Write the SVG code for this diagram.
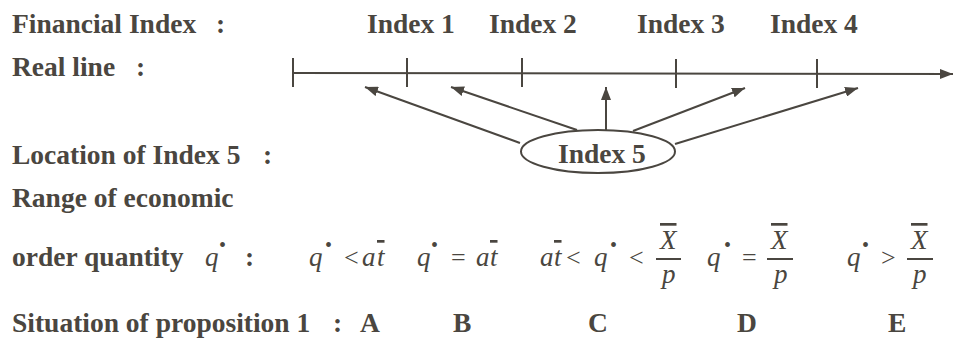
<svg xmlns="http://www.w3.org/2000/svg" width="953" height="340" viewBox="0 0 953 340">
<style>
.b{font-family:"Liberation Serif","Times New Roman",serif;font-weight:bold;font-size:27.5px;fill:#4a4640}
.m{font-family:"Liberation Serif","Times New Roman",serif;font-style:italic;font-size:27px;fill:#4a4640}
.r{font-family:"Liberation Serif","Times New Roman",serif;font-style:normal;font-size:26px;fill:#4a4640}
.d{font-size:20px;font-style:normal}
.o{text-decoration:overline}
.ln{stroke:#4a4640;stroke-width:2;fill:none}
</style>
<defs>
<marker id="ah" markerUnits="userSpaceOnUse" markerWidth="14" markerHeight="10" refX="13" refY="5" orient="auto">
<path d="M0,0 L13,5 L0,10 Z" fill="#4a4640"/>
</marker>
</defs>
<rect width="953" height="340" fill="#ffffff"/>
<g id="labels">
<text class="b" x="12" y="33">Financial Index<tspan x="216">:</tspan></text>
<text class="b" x="12" y="76">Real line<tspan x="136">:</tspan></text>
<text class="b" x="12" y="164">Location of Index 5<tspan x="263">:</tspan></text>
<text class="b" x="12" y="207">Range of economic</text>
<text class="b" x="12" y="266">order quantity</text>
<text class="b" x="12" y="332">Situation of proposition 1<tspan x="333">:</tspan></text>
</g>
<g id="index1"><text class="b" x="367" y="33">Index 1</text></g>
<g id="index2"><text class="b" x="489" y="33">Index 2</text></g>
<g id="index3"><text class="b" x="637" y="33">Index 3</text></g>
<g id="index4"><text class="b" x="770" y="33">Index 4</text></g>
<g id="realline">
<line class="ln" x1="293" y1="73" x2="953" y2="74" marker-end="url(#ah)"/>
<line class="ln" x1="293" y1="58" x2="293" y2="87"/>
<line class="ln" x1="407" y1="58" x2="407" y2="87"/>
<line class="ln" x1="522" y1="58" x2="522" y2="87"/>
<line class="ln" x1="676" y1="59" x2="676" y2="88"/>
<line class="ln" x1="817" y1="59" x2="817" y2="88"/>
</g>
<g id="index5">
<ellipse class="ln" cx="598" cy="151.5" rx="77" ry="21.5"/>
<text class="b" x="558" y="163">Index 5</text>
</g>
<g id="connectors">
<line class="ln" x1="520" y1="143" x2="365" y2="87" marker-end="url(#ah)"/>
<line class="ln" x1="577" y1="130" x2="451" y2="87" marker-end="url(#ah)"/>
<line class="ln" x1="606" y1="130" x2="606" y2="87" marker-end="url(#ah)"/>
<line class="ln" x1="633" y1="131" x2="745" y2="88" marker-end="url(#ah)"/>
<line class="ln" x1="675" y1="144" x2="858" y2="88" marker-end="url(#ah)"/>
</g>
<g id="ranges">
<text class="m" y="266"><tspan x="205">q</tspan><tspan class="d" x="219" y="252">•</tspan><tspan class="b" style="font-style:normal" x="245" y="266">:</tspan></text>
<text class="m" y="266"><tspan x="309">q</tspan><tspan class="d" x="325" y="252">•</tspan><tspan class="r" x="344" y="266">&lt;</tspan><tspan x="362">a</tspan><tspan class="o" x="377">t</tspan></text>
<text class="m" y="266"><tspan x="417">q</tspan><tspan class="d" x="431" y="252">•</tspan><tspan class="r" x="451" y="266">=</tspan><tspan x="476">a</tspan><tspan class="o" x="490">t</tspan></text>
<text class="m" y="266"><tspan x="540">a</tspan><tspan class="o" x="554">t</tspan><tspan class="r" x="566">&lt;</tspan><tspan x="594">q</tspan><tspan class="d" x="610" y="252">•</tspan><tspan class="r" x="629" y="266">&lt;</tspan></text>
<text class="m" y="249"><tspan class="o" x="660">X</tspan></text>
<line class="ln" x1="656" y1="259" x2="681" y2="259"/>
<text class="m" x="662" y="283">p</text>
<text class="m" y="266"><tspan x="707">q</tspan><tspan class="d" x="724" y="252">•</tspan><tspan class="r" x="742" y="266">=</tspan></text>
<text class="m" y="249"><tspan class="o" x="771">X</tspan></text>
<line class="ln" x1="767" y1="259" x2="793" y2="259"/>
<text class="m" x="774" y="283">p</text>
<text class="m" y="266"><tspan x="847">q</tspan><tspan class="d" x="862" y="252">•</tspan><tspan class="r" x="881" y="266">&gt;</tspan></text>
<text class="m" y="249"><tspan class="o" x="911">X</tspan></text>
<line class="ln" x1="907" y1="259" x2="933" y2="259"/>
<text class="m" x="913" y="283">p</text>
</g>
<g id="situations">
<text class="b" x="360" y="332">A</text>
<text class="b" x="453" y="332">B</text>
<text class="b" x="588" y="332">C</text>
<text class="b" x="737" y="332">D</text>
<text class="b" x="888" y="332">E</text>
</g>
</svg>
